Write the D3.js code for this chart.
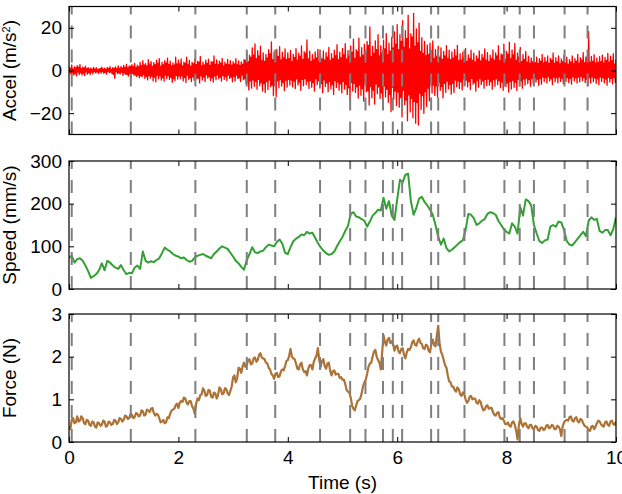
<!DOCTYPE html>
<html><head><meta charset="utf-8">
<script src="https://cdn.jsdelivr.net/npm/d3@7"></script>
<style>body{margin:0;background:#fff} text{font-family:"Liberation Sans",Arial,sans-serif}</style>
</head><body><svg id="c" width="622" height="494"></svg>
<script>
const timeTicks = [0, 2, 4, 6, 8, 10];
const eventTimes = [0.05, 1.13, 2.31, 3.25, 3.77, 4.59, 5.14, 5.42, 5.74, 5.92, 6.09, 6.62, 6.75, 7.23, 7.96, 8.24, 8.50, 9.06, 9.48];

// acceleration excursions, one pair per 0.025 s window (one upward, one downward sample)
const accelStep = 0.0125;
const accelMain = [
2.1,-1.8,2.6,-2.2,1.7,-2.5,2.3,-1.9,2.8,-2.1,1.6,-2.4,2.0,-1.7,1.4,-1.9,1.2,-1.6,1.5,-1.1,1.3,-1.4,0.9,-1.2,1.6,-1.3,1.1,-1.7,1.4,-1.0,1.8,-1.5,1.3,-3.6,1.7,-1.4,2.2,-1.6,1.9,-2.3,
2.4,-1.8,2.9,-2.6,2.1,-3.1,2.7,-2.2,3.3,-2.8,2.5,-3.4,3.8,-2.9,4.6,-3.7,3.2,-4.4,5.1,-3.6,4.2,-4.8,3.7,-5.3,4.9,-3.9,5.6,-4.5,3.9,-5.0,4.6,-3.8,5.8,-4.2,4.4,-5.5,3.6,-4.7,6.2,-4.0,
4.8,-3.7,5.4,-4.9,3.9,-5.6,6.3,-4.1,4.7,-5.2,3.8,-4.6,5.5,-3.9,4.3,-5.8,6.6,-4.4,3.9,-5.1,4.8,-3.6,5.3,-4.7,4.1,-5.4,6.8,-4.3,5.0,-3.8,4.4,-5.0,5.7,-4.2,3.9,-4.8,5.2,-3.7,4.6,-5.3,
4.1,-4.9,5.6,-3.8,4.5,-5.2,4.0,-4.3,5.1,-6.2,8.4,-9.1,7.2,-8.3,10.6,-7.4,12.5,-8.8,9.3,-7.1,11.4,-9.6,8.2,-10.3,7.5,-8.9,9.8,-7.6,13.4,-11.8,8.7,-12.2,9.9,-8.1,11.2,-7.3,8.6,-9.4,10.1,-7.8,
8.3,-6.9,9.4,-7.7,7.6,-8.5,10.2,-6.8,8.1,-9.3,11.5,-7.2,8.8,-6.5,14.3,-8.4,9.1,-7.9,7.4,-9.6,8.7,-6.6,9.9,-8.2,7.3,-10.4,9.2,-7.5,8.4,-9.9,10.8,-8.6,7.9,-11.3,9.5,-8.0,12.1,-9.2,8.6,-10.5,
10.4,-8.7,12.6,-11.2,9.3,-13.8,11.5,-9.6,14.7,-10.3,9.8,-12.9,15.2,-11.6,10.7,-14.4,12.3,-9.9,13.6,-16.2,20.4,-12.8,11.3,-15.7,13.9,-10.8,16.8,-13.1,11.6,-17.9,14.2,-12.4,17.3,-14.9,12.8,-19.3,15.6,-13.5,18.1,-16.4,
21.5,-17.2,16.8,-21.8,23.4,-15.9,18.7,-23.6,25.9,-19.4,17.3,-22.1,26.8,-24.7,19.5,-25.6,22.2,-18.3,15.4,-20.1,13.6,-16.8,11.9,-14.2,12.8,-10.6,13.9,-11.7,9.8,-12.5,11.4,-9.3,10.6,-12.8,8.9,-10.2,11.7,-8.6,9.5,-11.1,
8.7,-10.3,9.9,-7.6,11.8,-8.4,7.9,-9.1,8.6,-6.8,10.4,-7.7,7.3,-8.9,9.5,-6.4,8.1,-9.7,6.9,-7.8,9.2,-6.5,7.6,-8.3,10.1,-7.1,8.4,-6.9,7.2,-8.8,9.6,-7.4,8.3,-6.6,11.6,-8.1,7.8,-9.3,12.4,-7.5,
8.9,-10.1,13.2,-8.7,9.6,-7.9,12.7,-9.4,8.1,-7.2,10.8,-8.3,7.4,-6.8,8.9,-6.1,6.7,-7.4,5.8,-6.2,7.1,-5.4,6.3,-7.0,5.6,-6.4,7.5,-5.2,6.1,-5.9,6.8,-4.9,5.7,-6.6,8.2,-5.3,6.0,-5.8,6.9,-5.1,
5.4,-6.2,7.3,-5.0,6.2,-5.7,5.1,-6.4,6.8,-4.9,5.5,-5.8,7.6,-5.3,6.0,-4.7,8.4,-5.6,6.3,-7.1,18.2,-5.9,6.6,-5.2,7.4,-6.0,5.8,-6.7,6.5,-5.1,7.2,-5.8,6.1,-6.9,8.0,-5.4,6.7,-6.3,7.9,-5.6,
5.2];
const accelMid = [
-0.9,1.1,-1.2,0.8,-1.4,1.3,-0.7,1.6,-1.1,0.9,-1.3,1.2,-0.6,0.9,-1.0,0.7,-0.8,0.6,-0.5,0.8,-0.7,0.4,-0.6,0.9,-0.5,0.7,-0.9,0.6,-0.4,1.0,-0.8,0.5,-1.9,1.1,-0.6,0.9,-1.2,1.0,-0.8,1.2,
-1.2,1.5,-1.8,1.3,-1.6,2.0,-1.4,1.9,-2.1,1.5,-2.2,1.8,-2.5,2.3,-1.9,2.6,-2.8,2.1,-2.4,3.0,-2.6,1.9,-3.1,2.7,-2.2,3.3,-2.5,2.0,-3.4,2.8,-2.1,3.6,-2.4,2.9,-3.2,2.2,-3.8,2.6,-2.3,3.1,
-2.6,3.1,-2.4,2.2,-3.3,3.5,-2.1,2.7,-3.4,2.0,-2.9,3.2,-2.3,2.8,-3.6,3.9,-2.5,2.2,-3.1,2.6,-2.0,3.3,-2.8,2.4,-3.5,3.9,-2.6,2.9,-2.1,2.7,-3.2,3.4,-2.3,2.1,-2.9,3.0,-2.2,2.7,-3.1,2.5,
-2.8,3.1,-2.2,2.7,-3.4,2.4,-2.1,3.0,-3.9,4.8,-5.6,4.1,-4.9,6.3,-4.4,7.2,-5.1,5.6,-4.2,6.8,-5.7,4.6,-6.1,4.3,-5.2,5.9,-4.5,7.8,-6.9,5.1,-7.0,5.8,-4.9,6.6,-4.3,5.0,-5.6,6.0,-4.6,5.2,
-4.1,5.6,-4.5,4.3,-5.0,6.1,-3.9,4.8,-5.5,6.7,-4.2,5.2,-3.8,8.1,-5.0,5.4,-4.7,4.3,-5.7,5.1,-3.9,5.9,-4.8,4.2,-6.1,5.4,-4.4,5.0,-5.8,6.3,-5.1,4.6,-6.6,5.6,-4.7,7.0,-5.4,5.1,-6.2,6.0,
-5.1,7.4,-6.6,5.4,-8.1,6.8,-5.7,8.6,-6.0,5.7,-7.6,8.9,-6.8,6.2,-8.5,7.2,-5.8,8.0,-9.5,11.8,-7.5,6.6,-9.2,8.1,-6.3,9.8,-7.7,6.8,-10.5,8.3,-7.3,10.1,-8.8,7.5,-11.3,9.1,-7.9,10.6,-9.6,12.4,
-10.1,9.8,-12.8,13.7,-9.3,11.0,-13.9,15.1,-11.4,10.1,-13.0,15.7,-14.5,11.4,-15.0,13.0,-10.7,9.0,-11.8,8.0,-9.9,7.0,-8.3,7.5,-6.2,8.1,-6.9,5.7,-7.3,6.7,-5.4,6.2,-7.5,5.2,-6.0,6.8,-5.0,5.6,-6.5,5.1,
-6.0,5.8,-4.4,6.9,-4.9,4.6,-5.3,5.0,-4.0,6.1,-4.5,4.3,-5.2,5.6,-3.7,4.7,-5.7,4.0,-4.6,5.4,-3.8,4.5,-4.9,5.9,-4.2,4.9,-4.0,4.2,-5.2,5.6,-4.3,4.9,-3.9,6.8,-4.7,4.6,-5.4,7.3,-4.4,5.2,
-5.9,7.7,-5.1,5.6,-4.6,7.4,-5.5,4.7,-4.2,6.3,-4.9,4.3,-4.0,5.2,-3.6,3.9,-4.3,3.4,-3.6,4.2,-3.2,3.7,-4.1,3.3,-3.7,4.4,-3.0,3.6,-3.4,4.0,-2.9,3.3,-3.9,4.8,-3.1,3.5,-3.4,4.0,-3.0,3.2,
-3.6,4.3,-2.9,3.6,-3.3,3.0,-3.7,4.0,-2.9,3.2,-3.4,4.4,-3.1,3.5,-2.7,4.9,-3.3,3.7,-4.1,6.5,-3.4,3.9,-3.0,4.3,-3.5,3.4,-3.9,3.8,-3.0,4.2,-3.4,3.6,-4.0,4.7,-3.2,3.9,-3.7,4.6,-3.3,3.0];

// speed, sampled every 0.05 s
const speedStep = 0.05;
const speed = [
73,78,62,70,72,66,55,42,26,30,35,44,60,44,66,62,55,50,47,56,
44,35,38,37,50,55,47,88,66,62,65,63,68,72,84,97,92,88,82,78,
76,72,74,68,64,66,74,78,80,82,78,75,72,82,88,95,100,97,94,85,
76,66,60,52,45,68,82,98,86,84,88,90,98,104,102,100,110,116,106,85,
82,98,112,118,122,128,126,134,130,132,120,108,98,90,84,80,82,88,100,112,
122,136,148,176,180,170,168,164,160,146,158,172,178,186,184,214,188,206,172,162,
210,256,250,268,270,206,174,190,212,216,204,196,186,174,150,122,104,118,96,88,
92,98,104,110,114,138,176,174,166,150,154,160,164,176,180,178,174,160,150,140,
134,130,154,146,130,192,172,210,206,196,150,130,112,108,114,116,146,150,146,158,
156,138,112,104,102,110,118,126,134,124,160,168,162,164,136,132,138,138,126,140,
168];

// force, sampled every 0.025 s
const forceStep = 0.025;
const force = [
0.38,0.30,0.52,0.56,0.44,0.46,0.60,0.48,0.50,0.60,0.56,0.44,0.42,0.52,0.50,0.40,0.38,0.48,0.46,0.36,0.34,0.46,0.44,0.38,0.40,0.50,0.48,0.36,0.38,0.48,0.46,0.40,0.42,0.52,0.50,0.42,0.46,0.56,0.54,0.48,
0.52,0.62,0.60,0.54,0.56,0.66,0.64,0.56,0.58,0.68,0.66,0.60,0.62,0.74,0.72,0.62,0.64,0.76,0.74,0.70,0.78,0.80,0.68,0.62,0.66,0.64,0.56,0.46,0.48,0.52,0.44,0.46,0.58,0.56,0.66,0.74,0.76,0.78,0.86,0.90,
0.80,0.92,0.96,0.94,1.04,1.02,0.92,0.88,0.96,0.96,0.84,0.78,0.66,0.90,1.02,0.98,1.10,1.12,1.26,1.20,1.08,1.10,1.22,1.20,1.06,1.04,1.16,1.14,1.02,1.10,1.28,1.24,1.12,1.14,1.26,1.24,1.14,1.10,1.20,1.30,
1.52,1.56,1.40,1.50,1.74,1.72,1.62,1.78,1.86,1.76,1.80,1.92,1.94,1.82,1.84,1.96,1.98,1.88,1.92,2.04,2.08,1.98,1.96,1.94,1.86,1.84,1.74,1.70,1.60,1.56,1.48,1.60,1.62,1.52,1.54,1.66,1.70,1.68,1.78,1.90,
1.92,2.02,2.18,2.00,1.96,1.94,1.84,1.72,1.70,1.82,1.86,1.70,1.64,1.66,1.56,1.72,1.80,1.80,1.70,1.88,1.96,2.02,2.20,1.92,1.76,1.90,1.94,1.78,1.72,1.84,1.86,1.66,1.56,1.66,1.68,1.58,1.60,1.60,1.50,1.52,
1.46,1.46,1.36,1.22,1.18,1.16,1.04,0.86,0.78,0.74,0.86,0.96,0.98,1.02,1.14,1.30,1.40,1.46,1.60,1.76,1.84,1.86,2.00,2.12,2.16,2.00,1.92,1.86,1.70,2.10,2.50,2.34,2.26,2.40,2.44,2.32,2.36,2.30,2.14,2.24,
2.26,2.12,2.08,2.18,2.20,2.04,1.96,2.10,2.18,2.16,2.22,2.34,2.38,2.28,2.26,2.36,2.42,2.32,2.30,2.20,2.18,2.28,2.26,2.14,2.10,2.30,2.40,2.28,2.24,2.50,2.72,2.30,2.12,2.04,1.92,1.80,1.74,1.56,1.42,1.40,
1.30,1.30,1.22,1.18,1.28,1.24,1.12,1.08,1.16,1.12,1.00,0.92,0.96,1.06,1.08,1.00,1.02,1.02,0.92,0.90,0.98,0.94,0.82,0.74,0.76,0.84,0.86,0.78,0.80,0.80,0.70,0.64,0.62,0.68,0.70,0.58,0.54,0.56,0.50,0.42,
0.42,0.46,0.38,0.36,0.46,0.48,0.40,0.26,0.06,0.40,0.56,0.42,0.36,0.44,0.44,0.36,0.32,0.40,0.40,0.32,0.30,0.38,0.36,0.28,0.26,0.34,0.34,0.28,0.30,0.38,0.40,0.32,0.34,0.40,0.38,0.30,0.30,0.38,0.36,0.30,
0.14,0.36,0.46,0.50,0.52,0.50,0.58,0.60,0.50,0.48,0.56,0.58,0.48,0.46,0.54,0.52,0.44,0.38,0.36,0.34,0.28,0.26,0.36,0.38,0.30,0.36,0.44,0.50,0.48,0.42,0.38,0.36,0.46,0.48,0.40,0.38,0.48,0.50,0.42,0.40,
0.48];

const accelTicks = [-20, 0, 20];
const speedTicks = [0, 100, 200, 300];
const forceTicks = [0, 1, 2, 3];

const FS = 19;
const svg = d3.select("#c");
const L = 69, R = 616, H = 128;
const W = R - L;
const x = d3.scaleLinear().domain([0, 10]).range([0, W]);

// each 0.025 s window holds one upward and one downward excursion: draw the upward one first
const accelPts = [];
accelMain.forEach((v, i) => {
  if (i < accelMid.length) {
    const hi = Math.max(v, accelMid[i]), lo = Math.min(v, accelMid[i]);
    accelPts.push([2 * i * accelStep, hi], [(2 * i + 1) * accelStep, lo]);
  } else {
    accelPts.push([2 * i * accelStep, v]);
  }
});

const panels = [
  {top: 6.5, domain: [-30, 30], ticks: accelTicks, color: "#ff0000", width: 1.3,
   pts: accelPts, label: "accel"},
  {top: 161, domain: [0, 300], ticks: speedTicks, color: "#33a033", width: 2,
   pts: speed.map((v, i) => [i * speedStep, v]), label: "Speed (mm/s)"},
  {top: 314, domain: [0, 3], ticks: forceTicks, color: "#ad7236", width: 2.2,
   pts: force.map((v, i) => [i * forceStep, v]), label: "Force (N)"}
];

panels.forEach((p, k) => {
  const y = d3.scaleLinear().domain(p.domain).range([H, 0]);
  const g = svg.append("g").attr("transform", `translate(${L},${p.top})`);
  const cid = "clip" + k;
  g.append("clipPath").attr("id", cid).append("rect").attr("width", W).attr("height", H);
  const line = d3.line().x(d => x(d[0])).y(d => y(d[1]));
  g.append("path").datum(p.pts).attr("clip-path", `url(#${cid})`)
    .attr("d", line).attr("fill", "none").attr("stroke", p.color)
    .attr("stroke-width", p.width).attr("stroke-linejoin", "round");
  g.selectAll("line.ev").data(eventTimes).enter().append("line")
    .attr("x1", d => x(d)).attr("x2", d => x(d)).attr("y1", H).attr("y2", 0)
    .attr("stroke", "#7f7f7f").attr("stroke-width", 2).attr("stroke-dasharray", "13,11");

  const styleAxis = s => {
    s.select(".domain").remove();
    s.selectAll(".tick line").attr("stroke", "#000").attr("stroke-width", 1);
    s.selectAll(".tick text").attr("font-size", FS).attr("fill", "#000")
      .style("font-family", '"Liberation Sans", Arial, sans-serif');
  };
  g.append("g").call(d3.axisLeft(y).tickValues(p.ticks).tickSize(-5).tickPadding(7)
      .tickFormat(d => d < 0 ? "\u2212" + Math.abs(d) : d)).call(styleAxis);
  g.append("g").attr("transform", `translate(${W},0)`)
    .call(d3.axisRight(y).tickValues(p.ticks).tickSize(-5).tickFormat("")).call(styleAxis);
  g.append("g").call(d3.axisTop(x).tickValues(timeTicks).tickSize(-5).tickFormat("")).call(styleAxis);
  g.append("g").attr("transform", `translate(0,${H})`)
    .call(d3.axisBottom(x).tickValues(timeTicks).tickSize(-5).tickPadding(9)
      .tickFormat(k === 2 ? d => d : "")).call(styleAxis);
  g.append("rect").attr("width", W).attr("height", H).attr("fill", "none")
    .attr("stroke", "#000").attr("stroke-width", 1.2);

  const lab = svg.append("text").attr("transform", `translate(16,${p.top + H / 2}) rotate(-90)`)
    .attr("text-anchor", "middle").attr("font-size", FS).attr("fill", "#000");
  if (p.label === "accel") {
    lab.append("tspan").text("Accel (m/s");
    lab.append("tspan").attr("font-size", 11).attr("dy", -6).text("2");
    lab.append("tspan").attr("dy", 6).text(")");
  } else {
    lab.text(p.label);
  }
});

svg.append("text").attr("x", (L + R) / 2).attr("y", 489).attr("text-anchor", "middle")
  .attr("font-size", FS).attr("fill", "#000").text("Time (s)");
</script>
</body></html>
